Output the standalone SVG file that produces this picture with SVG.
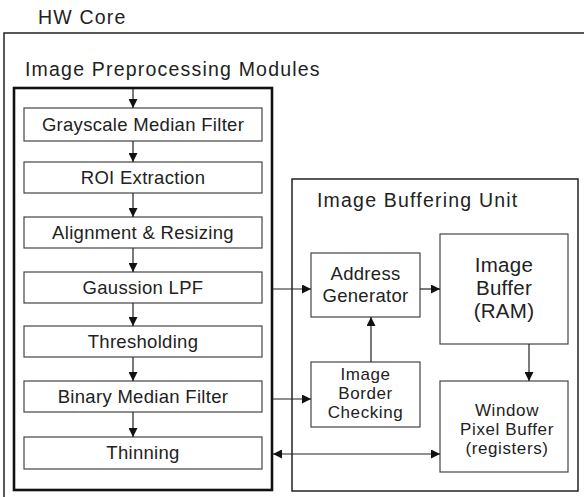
<svg xmlns="http://www.w3.org/2000/svg" width="584" height="497" viewBox="0 0 584 497">
<style>
text{font-family:"Liberation Sans",Arial,sans-serif;fill:#222;text-anchor:middle}
.title{font-size:19.5px;letter-spacing:1.2px;text-anchor:start}
.lbl{font-size:18.5px;letter-spacing:0.3px}
.sm{font-size:17px;letter-spacing:0.6px}
.big{font-size:20.5px;letter-spacing:0.3px}
.box{fill:#fff;stroke:#444;stroke-width:1.2}
.frame{fill:none;stroke:#222;stroke-width:1.5}
.thick{fill:none;stroke:#111;stroke-width:2.6}
.conn{stroke:#222;stroke-width:1.2;fill:none}
</style>
<defs>
<marker id="ah" viewBox="0 0 10 10" refX="10" refY="5" markerWidth="9" markerHeight="9" markerUnits="userSpaceOnUse" orient="auto-start-reverse">
<path d="M0,0 L10,5 L0,10 z" fill="#111"/>
</marker>
</defs>
<rect width="584" height="497" fill="#fff"/>
<g id="hw-core">
<path class="frame" d="M590,33 H4 V500"/>
<text class="title" x="38" y="24">HW Core</text>
</g>
<g id="preprocessing">
<rect class="thick" x="14" y="88" width="258" height="402"/>
<text class="title" x="25" y="76">Image Preprocessing Modules</text>
</g>
<g id="buffering-unit">
<rect class="frame" x="292" y="179" width="286" height="312"/>
<text class="title" x="317" y="207">Image Buffering Unit</text>
</g>
<g id="grayscale"><rect class="box" x="24" y="108" width="238" height="33"/><text class="lbl" x="143" y="131">Grayscale Median Filter</text></g>
<g id="roi"><rect class="box" x="24" y="162" width="238" height="31"/><text class="lbl" x="143" y="184">ROI Extraction</text></g>
<g id="alignment"><rect class="box" x="24" y="217" width="238" height="31"/><text class="lbl" x="143" y="239">Alignment &amp; Resizing</text></g>
<g id="gaussion"><rect class="box" x="24" y="272" width="238" height="31"/><text class="lbl" x="143" y="294">Gaussion LPF</text></g>
<g id="thresholding"><rect class="box" x="24" y="326" width="238" height="31"/><text class="lbl" x="143" y="348">Thresholding</text></g>
<g id="binary"><rect class="box" x="24" y="381" width="238" height="31"/><text class="lbl" x="143" y="403">Binary Median Filter</text></g>
<g id="thinning"><rect class="box" x="24" y="437" width="238" height="32"/><text class="lbl" x="143" y="459">Thinning</text></g>
<g id="address-generator"><rect class="box" x="311" y="253" width="109" height="64"/><text class="lbl" x="365.5" y="280">Address</text><text class="lbl" x="365.5" y="302">Generator</text></g>
<g id="image-buffer"><rect class="box" x="440" y="234" width="128" height="110"/><text class="big" x="504" y="272">Image</text><text class="big" x="504" y="295">Buffer</text><text class="big" x="504" y="318">(RAM)</text></g>
<g id="border-checking"><rect class="box" x="311" y="362" width="109" height="65"/><text class="sm" x="365.5" y="380">Image</text><text class="sm" x="365.5" y="399">Border</text><text class="sm" x="365.5" y="418">Checking</text></g>
<g id="window-buffer"><rect class="box" x="440" y="381" width="128" height="91"/><text class="sm" x="507" y="416">Window</text><text class="sm" x="507" y="435">Pixel Buffer</text><text class="sm" x="507" y="454">(registers)</text></g>
<g id="connectors">
<line class="conn" x1="133" y1="89" x2="133" y2="108" marker-end="url(#ah)"/>
<line class="conn" x1="133" y1="141" x2="133" y2="162" marker-end="url(#ah)"/>
<line class="conn" x1="133" y1="193" x2="133" y2="217" marker-end="url(#ah)"/>
<line class="conn" x1="133" y1="248" x2="133" y2="272" marker-end="url(#ah)"/>
<line class="conn" x1="133" y1="303" x2="133" y2="326" marker-end="url(#ah)"/>
<line class="conn" x1="133" y1="357" x2="133" y2="381" marker-end="url(#ah)"/>
<line class="conn" x1="133" y1="412" x2="133" y2="437" marker-end="url(#ah)"/>
<line class="conn" x1="273" y1="289" x2="311" y2="289" marker-end="url(#ah)"/>
<line class="conn" x1="420" y1="289" x2="440" y2="289" marker-end="url(#ah)"/>
<line class="conn" x1="371" y1="362" x2="371" y2="317" marker-end="url(#ah)"/>
<line class="conn" x1="273" y1="399" x2="311" y2="399" marker-end="url(#ah)"/>
<line class="conn" x1="529" y1="344" x2="529" y2="381" marker-end="url(#ah)"/>
<line class="conn" x1="273" y1="454" x2="440" y2="454" marker-start="url(#ah)" marker-end="url(#ah)"/>
</g>
</svg>
